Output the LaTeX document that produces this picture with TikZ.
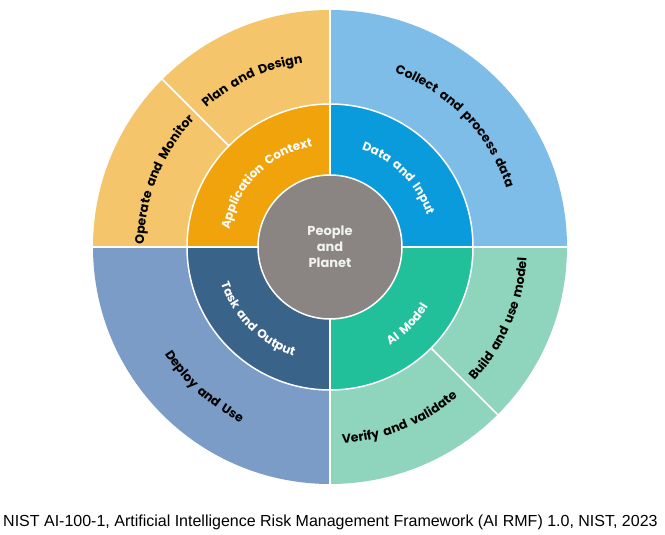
\documentclass[tikz,border=0pt]{standalone}
\usepackage{fontspec}
\setsansfont{Poppins}[WordSpace=1.8]
\newfontfamily\capfont{Liberation Sans}
\usetikzlibrary{decorations.text}
\definecolor{oY}{HTML}{F4C56A}\definecolor{iY}{HTML}{F0A30A}
\definecolor{oB}{HTML}{7DBDE8}\definecolor{iB}{HTML}{0A9BDC}
\definecolor{oG}{HTML}{8FD5BE}\definecolor{iG}{HTML}{21C09A}
\definecolor{oS}{HTML}{7A9CC6}\definecolor{iS}{HTML}{3A6389}
\definecolor{cG}{HTML}{8A8482}
\newcommand\olab{\sffamily\bfseries\fontsize{12.5}{13}\selectfont}
\newcommand\ilab{\sffamily\bfseries\fontsize{12}{13}\selectfont}
\tikzset{x=1pt,y=1pt,
 sep/.style={draw=white,line width=1.5pt},
 cwtext/.style n args={4}{decorate,decoration={text along path,text align=center,text color=#4,text={|#3|#2}}},
}
\begin{document}
\begin{tikzpicture}
\useasboundingbox[fill=white] (0,0) rectangle (665,535);
\begin{scope}[shift={(330,288)}]
\def\R{237}\def\M{143}\def\C{72}
\fill[oB] (0,0) -- (90:\R) arc[start angle=90,end angle=0,radius=\R] -- cycle;
\fill[oY] (0,0) -- (90:\R) arc[start angle=90,end angle=180,radius=\R] -- cycle;
\fill[oS] (0,0) -- (180:\R) arc[start angle=180,end angle=270,radius=\R] -- cycle;
\fill[oG] (0,0) -- (270:\R) arc[start angle=270,end angle=360,radius=\R] -- cycle;
\draw[sep] (135:\M) -- (135:\R);
\draw[sep] (-45:\M) -- (-45:\R);
\fill[iB] (0,0) -- (90:\M) arc[start angle=90,end angle=0,radius=\M] -- cycle;
\fill[iY] (0,0) -- (90:\M) arc[start angle=90,end angle=180,radius=\M] -- cycle;
\fill[iS] (0,0) -- (180:\M) arc[start angle=180,end angle=270,radius=\M] -- cycle;
\fill[iG] (0,0) -- (270:\M) arc[start angle=270,end angle=360,radius=\M] -- cycle;
\draw[sep] (0,0) circle[radius=\M];
\draw[sep] (-\R,0) -- (\R,0);
\draw[sep] (0,-\R) -- (0,\R);
\node[circle,fill=cG,draw=white,line width=1.5pt,minimum size=144pt,inner sep=0pt,align=center,
  text=white!90!gray,font=\sffamily\bfseries\fontsize{13}{16}\selectfont] (pp) at (0,0) {People\\and\\Planet};
% outer labels
\path[cwtext={}{Plan and Design}{\olab}{black}] (160:186) arc[start angle=160,end angle=70,radius=186];
\path[cwtext={}{Operate and Monitor}{\olab}{black}] (210:186) arc[start angle=210,end angle=106,radius=186];
\path[cwtext={}{Collect and process data}{\olab}{black}] (100:186) arc[start angle=100,end angle=-12,radius=186];
\path[cwtext={}{Build and use model}{\olab}{black}] (-75:197) arc[start angle=-75,end angle=29,radius=197];
\path[cwtext={}{Verify and validate}{\olab}{black}] (-115:197) arc[start angle=-115,end angle=-21,radius=197];
\path[cwtext={}{Deploy and Use}{\olab}{black}] (183:197) arc[start angle=183,end angle=273,radius=197];
% inner labels
\path[cwtext={}{Application Context}{\ilab}{white}] (195:102) arc[start angle=195,end angle=75,radius=102];
\path[cwtext={}{Data and Input}{\ilab}{white}] (105:102) arc[start angle=105,end angle=-15,radius=102];
\path[cwtext={}{Task and Output}{\ilab}{white}] (165:115) arc[start angle=165,end angle=285,radius=115];
\path[cwtext={}{AI Model}{\ilab}{white}] (255:115) arc[start angle=255,end angle=375,radius=115];
\end{scope}
\node[anchor=west,font=\capfont\fontsize{16}{17}\selectfont,inner sep=0pt] (cap) at (3,13)
 {NIST AI-100-1, Artificial Intelligence Risk Management Framework (AI RMF) 1.0, NIST, 2023};
\end{tikzpicture}
\end{document}
